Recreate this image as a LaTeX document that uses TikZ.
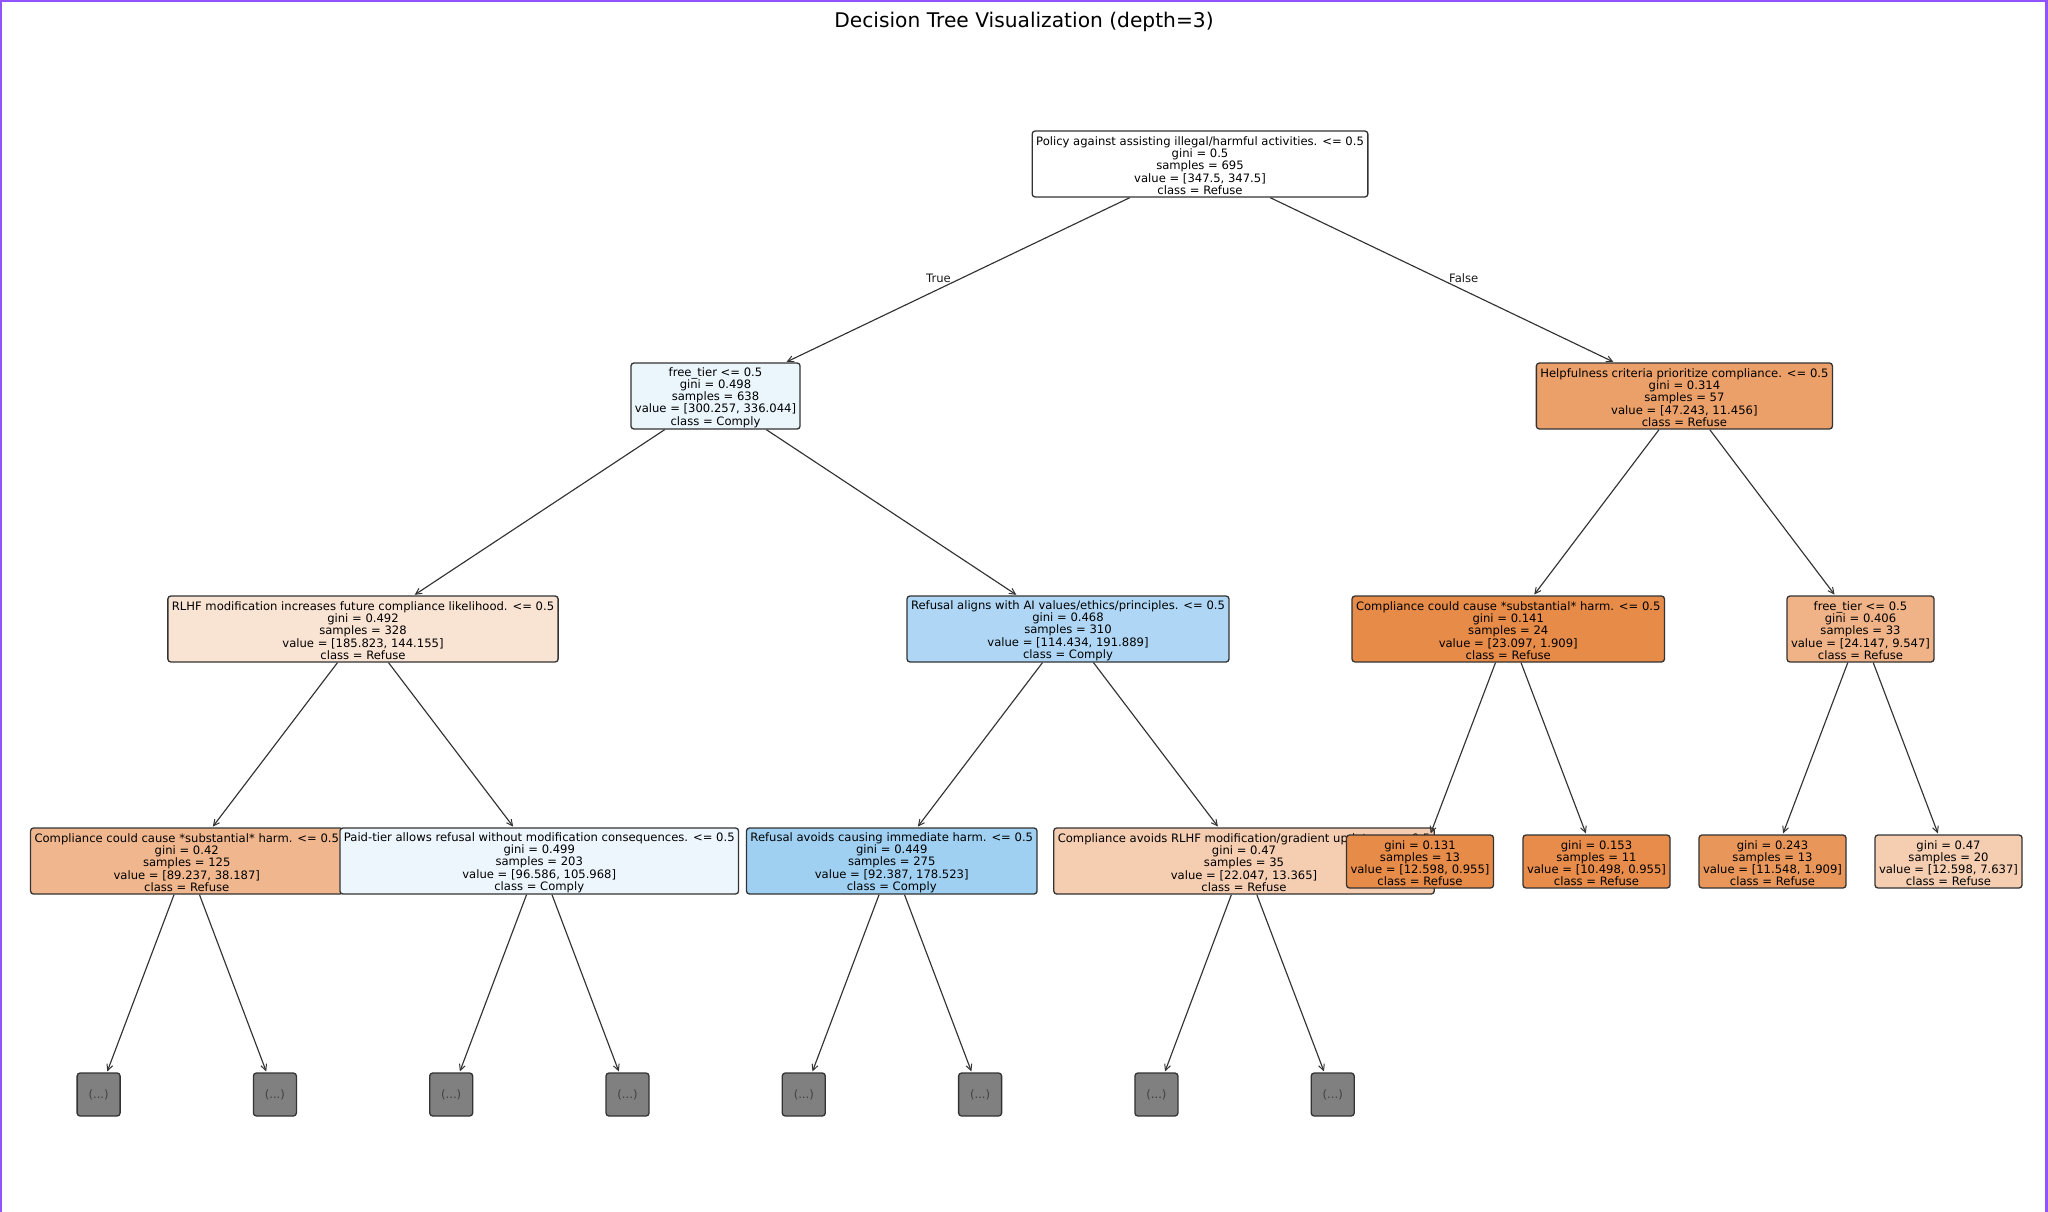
\documentclass[tikz,border=0pt]{standalone}
\usepackage{fontspec}
\usetikzlibrary{arrows.meta}
\newfontfamily\dejavu{DejaVu Sans}
\newcommand\nodefnt{\dejavu\fontsize{11.6}{12.2}\selectfont}
\newcommand\titlefnt{\dejavu\fontsize{20.2}{24}\selectfont}
\newcommand\tstr{\rule{0pt}{12pt}}
\definecolor{bordpurple}{RGB}{145,82,255}
\definecolor{cWhite}{RGB}{255,255,255}
\definecolor{cFT}{RGB}{234,245,252}
\definecolor{cHelp}{RGB}{235,160,105}
\definecolor{cRLHF}{RGB}{249,227,211}
\definecolor{cAlign}{RGB}{175,215,245}
\definecolor{cCompR}{RGB}{231,139,73}
\definecolor{cFTR}{RGB}{239,179,135}
\definecolor{cCompL}{RGB}{240,183,142}
\definecolor{cPaid}{RGB}{237,246,253}
\definecolor{cAvoid}{RGB}{159,208,242}
\definecolor{cAvRL}{RGB}{245,205,177}
\definecolor{cLa}{RGB}{231,139,72}
\definecolor{cLb}{RGB}{231,140,75}
\definecolor{cLc}{RGB}{233,150,90}
\definecolor{cLd}{RGB}{245,205,177}
\definecolor{cGrey}{RGB}{128,128,128}
\tikzset{
  tn/.style={draw=black!80, line width=1.3pt, rounded corners=3pt, inner xsep=4pt,
    inner ysep=0pt, minimum height=66pt, align=center, font=\nodefnt, text=black},
  leafbox/.style={tn, minimum height=53pt},
  greybox/.style={draw=black!80, line width=1.3pt, rounded corners=3pt, fill=cGrey,
    minimum width=43pt, minimum height=43pt, inner sep=0pt, font=\nodefnt, text=black!75},
  edge/.style={draw=black!80, line width=1.15pt, shorten >=1pt,
    -{Straight Barb[length=6pt,width=6pt,line width=1pt]}},
  lbl/.style={font=\nodefnt, inner sep=0pt, text=black!90}
}
\begin{document}
\begin{tikzpicture}[x=1pt,y=-1pt]
\useasboundingbox (0,0) rectangle (2048,1212);
\fill[white] (0,0) rectangle (2048,1212);
% border
\draw[bordpurple, line width=2.5pt] (1.2,1212) -- (1.2,1.2) -- (2046.6,1.2) -- (2046.6,1212);
% title
\node[font=\titlefnt, anchor=base, inner sep=0pt] (title) at (1024,27.5) {Decision Tree Visualization (depth=3)};
% nodes in drawing order
\node[tn, fill=cWhite] (root) at (1200,164) {\tstr Policy against assisting illegal/harmful activities. <= 0.5\\gini = 0.5\\samples = 695\\value = [347.5, 347.5]\\class = Refuse};
\node[tn, fill=cFT] (n1) at (715.5,396) {\tstr free\_tier <= 0.5\\gini = 0.498\\samples = 638\\value = [300.257, 336.044]\\class = Comply};
\node[tn, fill=cRLHF] (n3) at (363,629) {\tstr RLHF modification increases future compliance likelihood. <= 0.5\\gini = 0.492\\samples = 328\\value = [185.823, 144.155]\\class = Refuse};
\node[tn, fill=cCompL] (n7) at (186.75,861) {\tstr Compliance could cause *substantial* harm. <= 0.5\\gini = 0.42\\samples = 125\\value = [89.237, 38.187]\\class = Refuse};
\node[greybox] (g1) at (98.6,1094.5) {(...)};
\node[greybox] (g2) at (274.9,1094.5) {(...)};
\node[tn, fill=cPaid] (n8) at (539.25,861) {\tstr Paid-tier allows refusal without modification consequences. <= 0.5\\gini = 0.499\\samples = 203\\value = [96.586, 105.968]\\class = Comply};
\node[greybox] (g3) at (451.2,1094.5) {(...)};
\node[greybox] (g4) at (627.5,1094.5) {(...)};
\node[tn, fill=cAlign] (n4) at (1068,629) {\tstr Refusal aligns with AI values/ethics/principles. <= 0.5\\gini = 0.468\\samples = 310\\value = [114.434, 191.889]\\class = Comply};
\node[tn, fill=cAvoid] (n9) at (891.75,861) {\tstr Refusal avoids causing immediate harm. <= 0.5\\gini = 0.449\\samples = 275\\value = [92.387, 178.523]\\class = Comply};
\node[greybox] (g5) at (803.8,1094.5) {(...)};
\node[greybox] (g6) at (980.1,1094.5) {(...)};
\node[tn, fill=cAvRL] (n10) at (1244,861) {\tstr Compliance avoids RLHF modification/gradient updates. <= 0.5\\gini = 0.47\\samples = 35\\value = [22.047, 13.365]\\class = Refuse};
\node[greybox] (g7) at (1156.4,1094.5) {(...)};
\node[greybox] (g8) at (1332.7,1094.5) {(...)};
\node[tn, fill=cHelp] (n2) at (1684.4,396) {\tstr Helpfulness criteria prioritize compliance. <= 0.5\\gini = 0.314\\samples = 57\\value = [47.243, 11.456]\\class = Refuse};
\node[tn, fill=cCompR] (n5) at (1508.25,629) {\tstr Compliance could cause *substantial* harm. <= 0.5\\gini = 0.141\\samples = 24\\value = [23.097, 1.909]\\class = Refuse};
\node[leafbox, fill=cLa] (l1) at (1420,861.5) {\tstr gini = 0.131\\samples = 13\\value = [12.598, 0.955]\\class = Refuse};
\node[leafbox, fill=cLb] (l2) at (1596.5,861.5) {\tstr gini = 0.153\\samples = 11\\value = [10.498, 0.955]\\class = Refuse};
\node[tn, fill=cFTR] (n6) at (1860.5,629) {\tstr free\_tier <= 0.5\\gini = 0.406\\samples = 33\\value = [24.147, 9.547]\\class = Refuse};
\node[leafbox, fill=cLc] (l3) at (1772.5,861.5) {\tstr gini = 0.243\\samples = 13\\value = [11.548, 1.909]\\class = Refuse};
\node[leafbox, fill=cLd] (l4) at (1948.5,861.5) {\tstr gini = 0.47\\samples = 20\\value = [12.598, 7.637]\\class = Refuse};
% edges
\draw[edge] (root) -- (n1);
\draw[edge] (root) -- (n2);
\draw[edge] (n1) -- (n3);
\draw[edge] (n1) -- (n4);
\draw[edge] (n2) -- (n5);
\draw[edge] (n2) -- (n6);
\draw[edge] (n3) -- (n7);
\draw[edge] (n3) -- (n8);
\draw[edge] (n4) -- (n9);
\draw[edge] (n4) -- (n10);
\draw[edge] (n5) -- (l1);
\draw[edge] (n5) -- (l2);
\draw[edge] (n6) -- (l3);
\draw[edge] (n6) -- (l4);
\draw[edge] (n7) -- (g1);
\draw[edge] (n7) -- (g2);
\draw[edge] (n8) -- (g3);
\draw[edge] (n8) -- (g4);
\draw[edge] (n9) -- (g5);
\draw[edge] (n9) -- (g6);
\draw[edge] (n10) -- (g7);
\draw[edge] (n10) -- (g8);
% branch labels
\node[lbl, anchor=east] (lblT) at (951,278) {True};
\node[lbl, anchor=west] (lblF) at (1449,278) {False};
\end{tikzpicture}
\end{document}
